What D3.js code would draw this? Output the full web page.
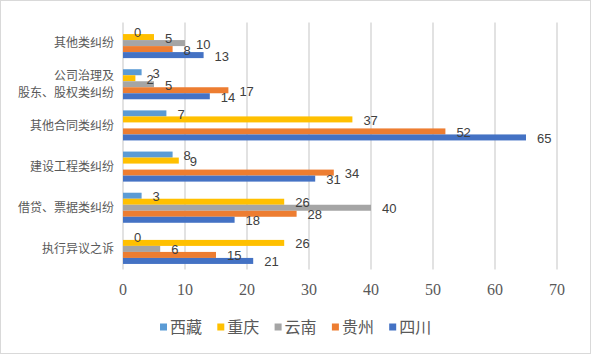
<!DOCTYPE html>
<html>
<head>
<meta charset="utf-8">
<script src="https://cdn.jsdelivr.net/npm/d3@7"></script>
<style>
  body { margin: 0; background: #fff; }
  svg { display: block; }
</style>
</head>
<body>
<div id="chart"></div>
<script>
const categories = ["其他类纠纷", "公司治理及\n股东、股权类纠纷", "其他合同类纠纷", "建设工程类纠纷", "借贷、票据类纠纷", "执行异议之诉"];
const seriesNames = ["西藏", "重庆", "云南", "贵州", "四川"];
const seriesColors = ["#5B9BD5", "#FFC000", "#A5A5A5", "#ED7D31", "#4472C4"];
const xizang = [0, 3, 7, 8, 3, 0];
const chongqing = [5, 2, 37, 9, 26, 26];
const yunnan = [10, 5, null, null, 40, 6];
const guizhou = [8, 17, 52, 34, 28, 15];
const sichuan = [13, 14, 65, 31, 18, 21];
const xTicks = [0, 10, 20, 30, 40, 50, 60, 70];

const seriesValues = [xizang, chongqing, yunnan, guizhou, sichuan];

const width = 591, height = 354;
const margin = { left: 123, right: 34, top: 22.5, bottom: 84.5 };

const svg = d3.select("#chart").append("svg")
    .attr("width", width)
    .attr("height", height);

svg.append("rect")
    .attr("x", 0.5).attr("y", 0.5)
    .attr("width", width - 1).attr("height", height - 1)
    .attr("fill", "#fff")
    .attr("stroke", "#d9d9d9");

const x = d3.scaleLinear()
    .domain([0, 70])
    .range([margin.left, width - margin.right]);

const y = d3.scaleBand()
    .domain(categories)
    .range([margin.top, height - margin.bottom])
    .paddingInner(0.27)
    .paddingOuter(0.135);

const ySub = d3.scaleBand()
    .domain(seriesNames)
    .range([0, y.bandwidth()]);

// gridlines
svg.append("g")
    .selectAll("line")
    .data(xTicks)
    .enter()
    .append("line")
    .attr("x1", d => x(d)).attr("x2", d => x(d))
    .attr("y1", margin.top).attr("y2", height - margin.bottom)
    .attr("stroke", "#d9d9d9")
    .attr("stroke-width", 1.5);

// x tick labels
svg.append("g")
    .selectAll("text")
    .data(xTicks)
    .enter()
    .append("text")
    .attr("x", d => x(d))
    .attr("y", height - margin.bottom + 20)
    .attr("dy", ".35em")
    .attr("text-anchor", "middle")
    .attr("fill", "#595959")
    .style("font-family", "'Liberation Serif', 'DejaVu Serif', serif")
    .style("font-size", "16px")
    .text(d => d);

// category labels
const catLabels = svg.append("g")
    .selectAll("text")
    .data(categories)
    .enter()
    .append("text")
    .attr("text-anchor", "end")
    .attr("fill", "#595959")
    .style("font-family", "'Noto Sans CJK SC', sans-serif")
    .style("font-size", "12px");

catLabels.each(function(d) {
    const lines = d.split("\n");
    const cy = y(d) + y.bandwidth() / 2;
    const lh = 17;
    lines.forEach((line, i) => {
        d3.select(this).append("tspan")
            .attr("x", margin.left - 9)
            .attr("y", cy + (i - (lines.length - 1) / 2) * lh)
            .attr("dy", ".35em")
            .text(line);
    });
});

// bars
const barData = [];
categories.forEach((c, ci) => {
    seriesNames.forEach((s, si) => {
        barData.push({ cat: c, series: s, value: seriesValues[si][ci], color: seriesColors[si] });
    });
});

svg.append("g")
    .selectAll("rect")
    .data(barData.filter(d => d.value !== null))
    .enter()
    .append("rect")
    .attr("x", x(0))
    .attr("y", d => y(d.cat) + ySub(d.series))
    .attr("width", d => x(d.value) - x(0))
    .attr("height", ySub.bandwidth())
    .attr("fill", d => d.color);

// value labels
svg.append("g")
    .selectAll("text")
    .data(barData.filter(d => d.value !== null))
    .enter()
    .append("text")
    .attr("x", d => x(d.value) + 11)
    .attr("y", d => y(d.cat) + ySub(d.series) + ySub.bandwidth() / 2 + 1)
    .attr("dy", ".35em")
    .attr("fill", "#404040")
    .style("font-family", "'Liberation Sans', Arial, sans-serif")
    .style("font-size", "13px")
    .text(d => d.value);

// legend
const legend = svg.append("g")
    .selectAll("g")
    .data(seriesNames)
    .enter()
    .append("g")
    .attr("transform", (d, i) => `translate(${160 + i * 57.3}, 327)`);

legend.append("rect")
    .attr("x", 0).attr("y", -3.5)
    .attr("width", 7).attr("height", 7)
    .attr("fill", (d, i) => seriesColors[i]);

legend.append("text")
    .attr("x", 10)
    .attr("y", 0)
    .attr("dy", ".35em")
    .attr("fill", "#595959")
    .style("font-family", "'Noto Sans CJK SC', sans-serif")
    .style("font-size", "16px")
    .text(d => d);
</script>
</body>
</html>
